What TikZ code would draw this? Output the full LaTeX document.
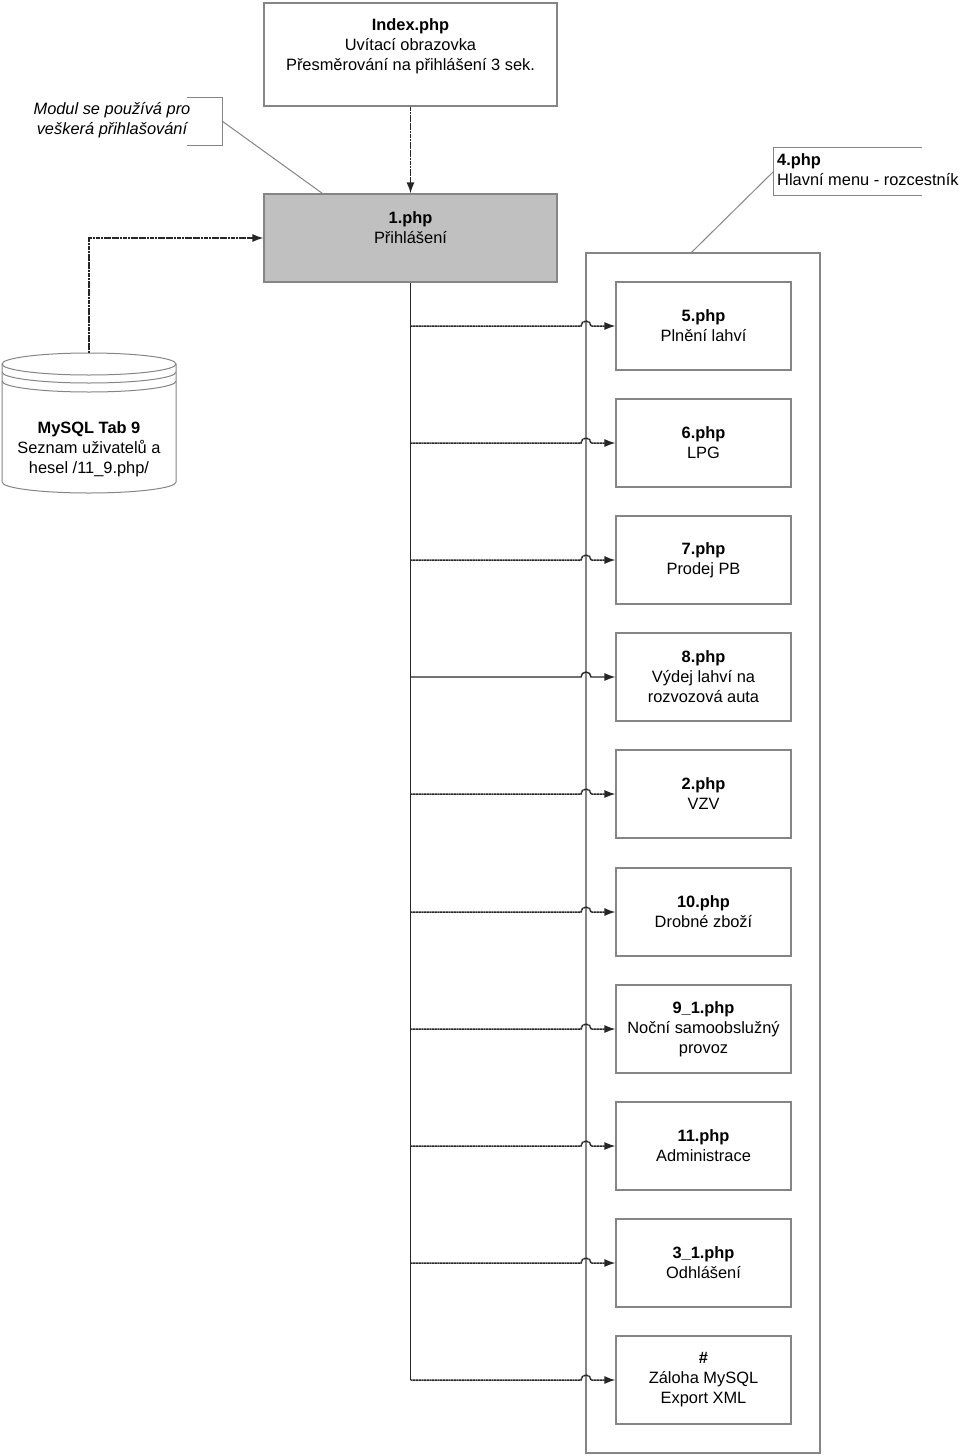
\documentclass[tikz,border=0pt]{standalone}
\usepackage{fontspec}
\setmainfont{Liberation Sans}
\usepackage{xcolor}
\definecolor{frame-gray}{HTML}{858585}
\definecolor{login-gray}{HTML}{C0C0C0}
\definecolor{link-gray}{HTML}{262626}
\usetikzlibrary{arrows.meta}

\tikzset{
    pagebox/.style={draw=frame-gray, fill=white, line width=1.1pt, align=center, inner sep=0pt,
        minimum width=175pt, minimum height=88pt, font=\fontsize{16.4}{20}\selectfont},
    notetext/.style={align=center, inner sep=0pt, font=\fontsize{16.4}{20}\selectfont},
    noteline/.style={draw=frame-gray, line width=1pt},
    branch/.style={draw=link-gray, line width=1.5pt, dash pattern=on 2.2pt off 0.5pt,
        -{Latex[length=11pt,width=8pt]}},
    solidbranch/.style={draw=link-gray, line width=1.4pt, -{Latex[length=11pt,width=8pt]}},
    trunk/.style={draw=link-gray, line width=1.6pt},
    dbline/.style={draw=frame-gray, line width=1pt}
}

\begin{document}
\begin{tikzpicture}[x=1pt, y=-1pt]

    \useasboundingbox (0,0) rectangle (960,1456);

    % Pages on top
    \node[pagebox, minimum width=293pt, minimum height=103pt] (index) at (410.5,54.5)
        {\textbf{Index.php}\\Uvítací obrazovka\\Přesměrování na přihlášení 3 sek.\\\mbox{}};
    \node[pagebox, fill=login-gray, minimum width=293pt] (login) at (410.5,238)
        {\textbf{1.php}\\Přihlášení\\\mbox{}};

    % Note on login
    \node[notetext, font=\fontsize{16.4}{20}\selectfont\itshape] (modul) at (112,120)
        {Modul se používá pro\\veškerá přihlašování};
    \draw[noteline] (187,97) -- (222,97) -- (222,145) -- (187,145);
    \coordinate (modultip) at (222,121);
    \draw[noteline] (modultip) -- ([xshift=59pt]login.north west);

    % Menu frame
    \node[draw=frame-gray, line width=1.1pt, minimum width=234pt, minimum height=1200pt, inner sep=0pt] (frame) at (703,853) {};
    \node[notetext, align=left, anchor=west] (menu) at (777,170) {\textbf{4.php}\\Hlavní menu - rozcestník};
    \draw[noteline] (922,147) -- (773,147) -- (773,195) -- (922,195);
    \coordinate (menutip) at (773,172);
    \draw[noteline] (menutip) -- ([xshift=106pt]frame.north west);

    % Pages in the menu
    \node[pagebox] (p5) at (703.5,326) {\textbf{5.php}\\Plnění lahví};
    \node[pagebox] (p6) at (703.5,443) {\textbf{6.php}\\LPG};
    \node[pagebox] (p7) at (703.5,560) {\textbf{7.php}\\Prodej PB};
    \node[pagebox] (p8) at (703.5,677) {\textbf{8.php}\\Výdej lahví na\\rozvozová auta};
    \node[pagebox] (p2) at (703.5,794) {\textbf{2.php}\\VZV};
    \node[pagebox] (p10) at (703.5,912) {\textbf{10.php}\\Drobné zboží};
    \node[pagebox] (p9) at (703.5,1029) {\textbf{9\_1.php}\\Noční samoobslužný\\provoz};
    \node[pagebox] (p11) at (703.5,1146) {\textbf{11.php}\\Administrace};
    \node[pagebox] (p3) at (703.5,1263) {\textbf{3\_1.php}\\Odhlášení};
    \node[pagebox] (px) at (703.5,1380) {\textbf{\#}\\Záloha MySQL\\Export XML};

    % Database
    \draw[dbline, fill=white] (2,364) -- (2,482) arc[start angle=180, end angle=360, x radius=87pt, y radius=11pt] -- (176,364);
    \draw[dbline, fill=white] (89,364) ellipse [x radius=87pt, y radius=11pt];
    \draw[dbline] (2,372) arc[start angle=180, end angle=360, x radius=87pt, y radius=11pt];
    \draw[dbline] (2,381) arc[start angle=180, end angle=360, x radius=87pt, y radius=11pt];
    \node[notetext] (db) at (89,449) {\textbf{MySQL Tab 9}\\Seznam uživatelů a\\hesel /11\_9.php/};
    \coordinate (dbtop) at (89,353);

    % Links
    \draw[branch] (index.south) -- (login.north);
    \draw[branch] (dbtop) |- (login.west);
    \draw[trunk] (login.south) -- (login.south |- px.west);
    \draw[branch] (login.south |- p5.west) -- ++(170.5,0) arc[start angle=180, end angle=0, radius=5pt] -- (p5.west);
    \draw[branch] (login.south |- p6.west) -- ++(170.5,0) arc[start angle=180, end angle=0, radius=5pt] -- (p6.west);
    \draw[branch] (login.south |- p7.west) -- ++(170.5,0) arc[start angle=180, end angle=0, radius=5pt] -- (p7.west);
    \draw[solidbranch] (login.south |- p8.west) -- ++(170.5,0) arc[start angle=180, end angle=0, radius=5pt] -- (p8.west);
    \draw[branch] (login.south |- p2.west) -- ++(170.5,0) arc[start angle=180, end angle=0, radius=5pt] -- (p2.west);
    \draw[branch] (login.south |- p10.west) -- ++(170.5,0) arc[start angle=180, end angle=0, radius=5pt] -- (p10.west);
    \draw[branch] (login.south |- p9.west) -- ++(170.5,0) arc[start angle=180, end angle=0, radius=5pt] -- (p9.west);
    \draw[branch] (login.south |- p11.west) -- ++(170.5,0) arc[start angle=180, end angle=0, radius=5pt] -- (p11.west);
    \draw[branch] (login.south |- p3.west) -- ++(170.5,0) arc[start angle=180, end angle=0, radius=5pt] -- (p3.west);
    \draw[branch] (login.south |- px.west) -- ++(170.5,0) arc[start angle=180, end angle=0, radius=5pt] -- (px.west);

\end{tikzpicture}
\end{document}
